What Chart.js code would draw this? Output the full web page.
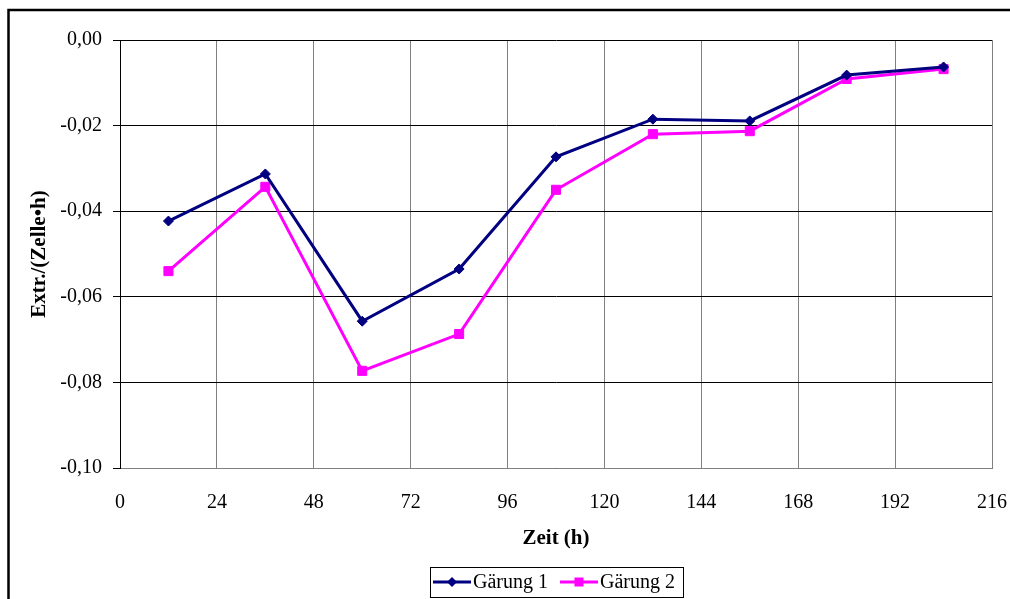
<!DOCTYPE html>
<html>
<head>
<meta charset="utf-8">
<script src="https://cdn.jsdelivr.net/npm/chart.js@4/dist/chart.umd.min.js"></script>
<style>
html,body{margin:0;padding:0;background:#fff;}
canvas{display:block;}
</style>
</head>
<body>
<canvas id="c" width="1010" height="599"></canvas>
<script>
const hours = [12, 36, 60, 84, 108, 132, 156, 180, 204];
const gaerung1 = [-0.0423, -0.0313, -0.0657, -0.0535, -0.0273, -0.0185, -0.0189, -0.0082, -0.0063];
const gaerung2 = [-0.0540, -0.0343, -0.0773, -0.0687, -0.0350, -0.0220, -0.0213, -0.0091, -0.0068];
const seriesNames = ['Gärung 1', 'Gärung 2'];
const xTickValues = [0, 24, 48, 72, 96, 120, 144, 168, 192, 216];
const yTickValues = [0, -0.02, -0.04, -0.06, -0.08, -0.10];

const FONT = '"Liberation Serif", "Times New Roman", serif';
const BLUE = '#000080';
const MAG = '#FF00FF';

function drawLegendIcon(g, x, y, color, shape) {
  g.save();
  g.strokeStyle = color; g.lineWidth = 3;
  g.beginPath(); g.moveTo(x, y); g.lineTo(x + 38, y); g.stroke();
  g.fillStyle = color;
  g.beginPath();
  const cx = x + 19;
  if (shape === 'diamond') {
    g.moveTo(cx, y - 5); g.lineTo(cx + 5, y); g.lineTo(cx, y + 5); g.lineTo(cx - 5, y); g.closePath();
  } else {
    g.rect(cx - 4.5, y - 4.5, 9, 9);
  }
  g.fill();
  g.restore();
}

const framePlugin = {
  id: 'frames',
  beforeDraw(chart) {
    const ctx = chart.ctx;
    ctx.save();
    ctx.fillStyle = '#fff';
    ctx.fillRect(0, 0, chart.width, chart.height);
    ctx.restore();
  },
  afterDraw(chart) {
    const ctx = chart.ctx;
    ctx.save();
    ctx.strokeStyle = '#000';
    ctx.lineWidth = 2.5;
    ctx.beginPath();
    ctx.moveTo(chart.width, 10);
    ctx.lineTo(8.5, 10);
    ctx.lineTo(8.5, chart.height);
    ctx.stroke();
    const ca = chart.chartArea;
    const cx = (ca.left + ca.right) / 2;
    const cy = 582;
    ctx.font = '20px ' + FONT;
    const shapes = ['diamond', 'square'];
    const items = chart.data.datasets.map((ds, i) => ({
      text: ds.label, color: ds.borderColor, shape: shapes[i],
      w: ctx.measureText(ds.label).width
    }));
    const iconW = 38, gapIT = 2, gapItems = 12, padL = 3, padR = 8;
    let total = padL + padR;
    items.forEach((it, i) => { total += iconW + gapIT + it.w + (i ? gapItems : 0); });
    const left = Math.round(cx - total / 2);
    ctx.lineWidth = 1;
    ctx.strokeStyle = '#000';
    ctx.strokeRect(left + 0.5, cy - 15 + 0.5, Math.round(total), 30);
    let x = left + padL;
    items.forEach((it, i) => {
      if (i) x += gapItems;
      drawLegendIcon(ctx, x, cy, it.color, it.shape);
      x += iconW + gapIT;
      ctx.fillStyle = '#000';
      ctx.textBaseline = 'middle';
      ctx.textAlign = 'left';
      ctx.fillText(it.text, x, cy + 1);
      x += it.w;
    });
    ctx.restore();
  }
};

const toPts = (arr) => hours.map((h, i) => ({x: h, y: arr[i]}));

new Chart(document.getElementById('c'), {
  type: 'line',
  data: {
    datasets: [
      {
        label: seriesNames[0],
        data: toPts(gaerung1),
        borderColor: BLUE,
        backgroundColor: BLUE,
        borderWidth: 3,
        pointStyle: 'rectRot',
        pointRadius: 5,
        pointHoverRadius: 5,
        pointBorderWidth: 1,
        tension: 0
      },
      {
        label: seriesNames[1],
        data: toPts(gaerung2),
        borderColor: MAG,
        backgroundColor: MAG,
        borderWidth: 3,
        pointStyle: 'rect',
        pointRadius: 6.4,
        pointHoverRadius: 6.4,
        pointBorderWidth: 1,
        tension: 0
      }
    ]
  },
  options: {
    responsive: false,
    animation: false,
    events: [],
    layout: { padding: { left: 0, top: 40, right: 18, bottom: 0 } },
    plugins: {
      tooltip: { enabled: false },
      legend: { display: false }
    },
    scales: {
      x: {
        type: 'linear',
        min: 0,
        max: 216,
        afterBuildTicks(scale) { scale.ticks = xTickValues.map(v => ({value: v})); },
        afterFit(scale) { scale.height = 131; scale.paddingRight = 0; scale.paddingLeft = 0; },
        ticks: {
          autoSkip: false,
          maxRotation: 0,
          padding: 23,
          color: '#000',
          font: { family: FONT, size: 20 },
          callback: (v) => String(v)
        },
        grid: { color: '#808080', lineWidth: 1, drawTicks: false },
        border: { color: '#808080', width: 1 },
        title: {
          display: true,
          text: 'Zeit (h)',
          color: '#000',
          font: { family: FONT, size: 21, weight: 'bold' },
          padding: { top: 48, bottom: 48 }
        }
      },
      y: {
        type: 'linear',
        min: -0.10,
        max: 0,
        afterBuildTicks(scale) { scale.ticks = yTickValues.map(v => ({value: v})); },
        afterFit(scale) { scale.width = 120; scale.paddingTop = 0; scale.paddingBottom = 0; },
        ticks: {
          padding: 11,
          color: '#000',
          font: { family: FONT, size: 20 },
          callback: (v) => v.toFixed(2).replace('.', ',')
        },
        grid: { color: '#000', lineWidth: 1, drawTicks: true, tickLength: 7, tickColor: '#000' },
        border: { color: '#000', width: 1 },
        title: {
          display: true,
          text: 'Extr./(Zelle•h)',
          color: '#000',
          font: { family: FONT, size: 21, weight: 'bold' },
          padding: 27
        }
      }
    }
  },
  plugins: [framePlugin]
});
</script>
</body>
</html>
